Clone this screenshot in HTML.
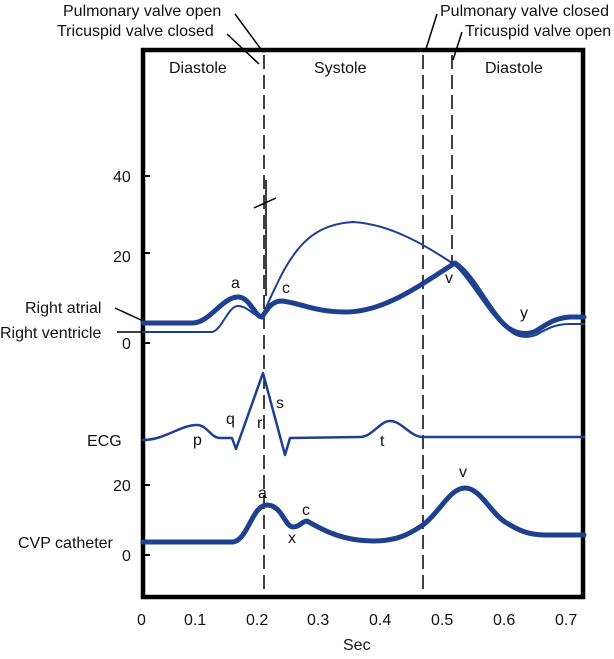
<!DOCTYPE html>
<html><head><meta charset="utf-8"><style>
html,body{margin:0;padding:0;background:#fff}
text{font-family:"Liberation Sans",Arial,sans-serif;fill:#111}
</style></head><body>
<svg width="614" height="654" viewBox="0 0 614 654" xmlns="http://www.w3.org/2000/svg">
<rect x="143" y="50" width="440" height="547" fill="none" stroke="#000" stroke-width="4.5"/>
<g font-size="16">
<text x="63" y="16">Pulmonary valve open</text>
<text x="57" y="36">Tricuspid valve closed</text>
<text x="440" y="16">Pulmonary valve closed</text>
<text x="465" y="36">Tricuspid valve open</text>
<text x="169" y="73">Diastole</text>
<text x="314" y="73">Systole</text>
<text x="485" y="73">Diastole</text>
<text x="25" y="313">Right atrial</text>
<text x="0" y="338">Right ventricle</text>
<text x="87" y="446">ECG</text>
<text x="18" y="548">CVP catheter</text>
<text x="113" y="182">40</text>
<text x="113" y="262">20</text>
<text x="122" y="349">0</text>
<text x="113" y="491">20</text>
<text x="122" y="561">0</text>
<text x="231" y="288">a</text>
<text x="282" y="293">c</text>
<text x="445" y="283">v</text>
<text x="520" y="318">y</text>
<text x="193" y="445">p</text>
<text x="226" y="424">q</text>
<text x="257" y="428">r</text>
<text x="276" y="408">s</text>
<text x="380" y="446">t</text>
<text x="258" y="498">a</text>
<text x="302" y="515">c</text>
<text x="288" y="543">x</text>
<text x="459" y="477">v</text>
<text x="137" y="625">0</text>
<text x="184" y="625">0.1</text>
<text x="246" y="625">0.2</text>
<text x="307" y="625">0.3</text>
<text x="369" y="625">0.4</text>
<text x="431" y="625">0.5</text>
<text x="493" y="625">0.6</text>
<text x="555" y="625">0.7</text>
<text x="343" y="650">Sec</text>
</g>
<g stroke="#000" stroke-width="1.5" fill="none">
<line x1="235" y1="14" x2="263" y2="52"/>
<line x1="227" y1="34" x2="259" y2="64"/>
<line x1="437" y1="14" x2="425" y2="52"/>
<line x1="462" y1="32" x2="453" y2="60"/>
<line x1="115" y1="308" x2="141" y2="320"/>
<line x1="117" y1="332" x2="141" y2="332"/>
<line x1="254" y1="208" x2="276" y2="198"/>
<line x1="266" y1="180" x2="266" y2="296"/>
<line x1="143" y1="176" x2="150" y2="176" stroke-width="2"/>
<line x1="143" y1="253" x2="150" y2="253" stroke-width="2"/>
<line x1="143" y1="343" x2="150" y2="343" stroke-width="2"/>
<line x1="143" y1="485" x2="150" y2="485" stroke-width="2"/>
<line x1="143" y1="555" x2="150" y2="555" stroke-width="2"/>
<g stroke-dasharray="14,6">
<line x1="264" y1="55" x2="264" y2="598"/>
<line x1="423" y1="55" x2="423" y2="598"/>
<line x1="452" y1="55" x2="452" y2="265"/>
</g>
</g>
<g fill="none" stroke="#1f3f8f" stroke-linejoin="round" stroke-linecap="round">
<path stroke-width="2" d="M143 332 L212 332 C222 330 228 306 238 306 C248 306 254 317 262 317 C266 308 270 298 276 286 C295 245 315 224 353 222 C390 224 425 245 452 263"/>
<path stroke-width="2" d="M452 263 C470 276 490 318 510 331 C518 338 528 338 536 335 C548 328 556 324 570 324 L584 324"/>
<path stroke-width="5" d="M143 323 L192 323 C210 323 222 297 238 297 C250 297 255 317 262 317 C268 308 272 301 282 301 C300 303 315 312 345 312 C385 312 420 285 455 263 C475 276 492 318 510 329 C518 334 528 335 536 331 C548 323 556 318 570 317 L584 317"/>
<path stroke-width="2.5" d="M143 440 C165 440 180 425 197 425 C207 425 211 438 220 438 L232 438 L236 449 L263 373 L285 455 L290 438 L360 437 C372 437 380 421 390 421 C402 421 410 437 423 437 L584 437"/>
<path stroke-width="5" d="M143 542 L233 542 C248 540 252 505 267 505 C282 505 285 527 293 527 C300 527 302 521 307 521 C320 528 340 541 373 541 C400 541 412 532 423 525 C440 512 450 488 465 488 C480 488 490 512 505 522 C518 530 528 535 545 535 L584 535"/>
</g>
</svg>
</body></html>
